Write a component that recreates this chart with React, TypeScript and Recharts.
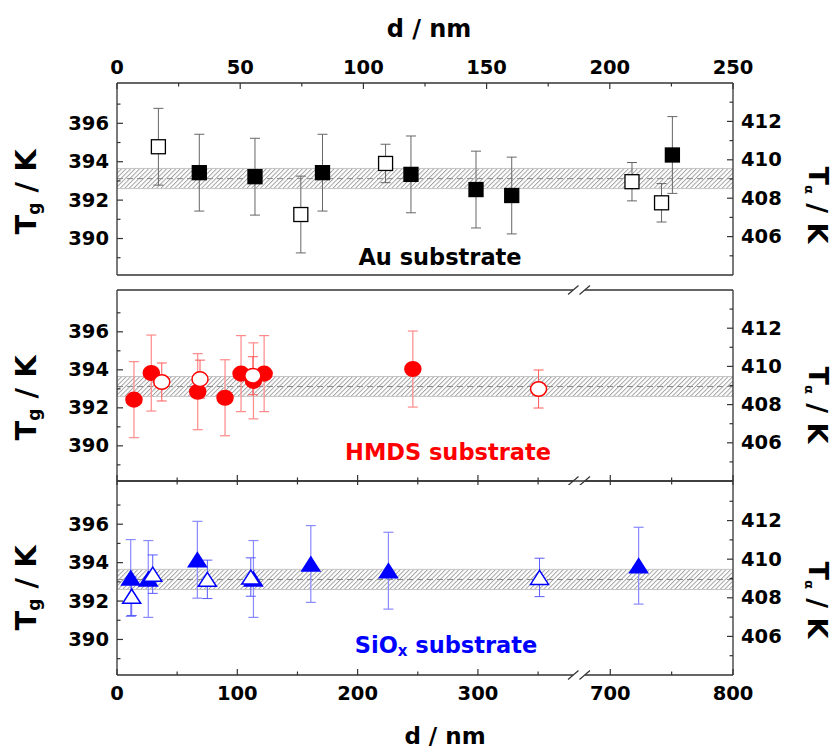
import React from 'react';
import { ScatterChart, Scatter, XAxis, YAxis, ErrorBar, ReferenceArea, ReferenceLine, ReferenceDot } from 'recharts';

// Au substrate, d read against the top axis (nm)
const auFilledD = [33.4, 56, 83.4, 119.3, 145.7, 160.2, 225.4];
const auFilledTg = [393.43, 393.22, 393.43, 393.34, 392.55, 392.24, 394.35];
const auFilledErr = [2, 2, 2, 2, 2, 2, 2];
const auOpenD = [16.8, 74.6, 109, 209, 221];
const auOpenTg = [394.78, 391.25, 393.91, 392.96, 391.86];
const auOpenErr = [2, 2, 1, 1, 1];

// HMDS substrate (bottom axis, broken between 350 and 700 nm)
const hmdsFilledD = [14.1, 28.5, 67.1, 89.8, 103.1, 113.4, 122.3, 245.9];
const hmdsFilledTg = [392.43, 393.83, 392.85, 392.53, 393.8, 393.42, 393.8, 394.04];
const hmdsFilledErr = [2, 2, 2, 2, 2, 2, 2, 2];
const hmdsOpenD = [37.2, 69, 112.9, 350.4];
const hmdsOpenTg = [393.36, 393.51, 393.69, 392.99];
const hmdsOpenErr = [1, 1, 1, 1];

// SiOx substrate
const sioFilledD = [11.4, 26, 66.8, 113.4, 161.1, 225.6, 723.1];
const sioFilledTg = [393.2, 393.15, 394.15, 393.15, 393.93, 393.58, 393.84];
const sioFilledErr = [2, 2, 2, 2, 2, 2, 2];
const sioOpenD = [12.2, 29.7, 75.1, 111.2, 351.2];
const sioOpenTg = [392.25, 393.4, 393.13, 393.25, 393.23];
const sioOpenErr = [1, 1, 1, 1, 1];

// reference band (mean Tg with its spread)
const bandLow = 392.6;
const bandHigh = 393.65;
const bandMean = 393.12;

const topTicks = [0, 25, 50, 75, 100, 125, 150, 175, 200, 225, 250];
const bottomTicksNm = [0, 50, 100, 150, 200, 250, 300, 350, 700, 750, 800];
const bottomLabels = [0, 100, 200, 300, 700, 800];
const tgTicks = [389, 390, 391, 392, 393, 394, 395, 396, 397];
const taTicks = [405, 406, 407, 408, 409, 410, 411, 412, 413];

const hmdsTgDomain: [number, number] = [388.15, 398.2];

const FONT = '"DejaVu Sans", Verdana, sans-serif';
const AXIS = '#333';
const BREAK_AT = 384;

// broken axis: 0..350 nm linear, then 700..800 nm squeezed next to it
const toAxis = (d: number) => (d < 500 ? d : 410 + (d - 700) * 1.02);
const fromAxis = (v: number) => (v < 385 ? v : Math.round(700 + (v - 410) / 1.02));
const bottomTicks = [...bottomTicksNm.map(toAxis), BREAK_AT].sort((a, b) => a - b);

const pts = (d: number[], t: number[], e: number[], tx = (v: number) => v) =>
  d.map((v, i) => ({ x: tx(v), y: t[i], err: e[i] }));

type Side = 'left' | 'right' | 'top' | 'bottom';

function breakMark(x: number, y: number) {
  return (
    <g>
      <rect x={x - 6} y={y - 2} width={12} height={4} fill="#fff" />
      <line x1={x - 11} y1={y + 4.5} x2={x - 0.5} y2={y - 4.5} stroke={AXIS} strokeWidth={1.2} />
      <line x1={x + 0.5} y1={y + 4.5} x2={x + 11} y2={y - 4.5} stroke={AXIS} strokeWidth={1.2} />
    </g>
  );
}

const makeTick = (side: Side, isMajor: (v: number) => boolean, label: (v: number) => string, both = false) => (props: any) => {
  const { x, y, payload } = props;
  const v = payload.value;
  if (v === BREAK_AT) return breakMark(x, y);
  const len = isMajor(v) ? 6 : 3.5;
  const out = both ? len : 0;
  const txt = label(v);
  const ts = { fontFamily: FONT, fontWeight: 700, fontSize: 19.5, fill: '#000' };
  if (side === 'left')
    return (
      <g>
        <line x1={x} y1={y} x2={x + len} y2={y} stroke={AXIS} strokeWidth={1.2} />
        {txt && <text x={x - 8} y={y} textAnchor="end" dominantBaseline="central" {...ts}>{txt}</text>}
      </g>
    );
  if (side === 'right')
    return (
      <g>
        <line x1={x} y1={y} x2={x - len} y2={y} stroke={AXIS} strokeWidth={1.2} />
        {txt && <text x={x + 8} y={y} textAnchor="start" dominantBaseline="central" {...ts}>{txt}</text>}
      </g>
    );
  if (side === 'top')
    return (
      <g>
        <line x1={x} y1={y} x2={x} y2={y + len} stroke={AXIS} strokeWidth={1.2} />
        {txt && <text x={x} y={y - 16} textAnchor="middle" dominantBaseline="central" {...ts}>{txt}</text>}
      </g>
    );
  return (
    <g>
      <line x1={x} y1={y + out} x2={x} y2={y - len} stroke={AXIS} strokeWidth={1.2} />
      {txt && <text x={x} y={y + 18} textAnchor="middle" dominantBaseline="central" {...ts}>{txt}</text>}
    </g>
  );
};

const even = (v: number) => v % 2 === 0;
const evenLabel = (v: number) => (even(v) ? String(v) : '');
const axisLine = { stroke: AXIS, strokeWidth: 1.3 };

const square = (fill: string, stroke: string) => (p: any) =>
  <rect x={p.cx - 7} y={p.cy - 7} width={14} height={14} fill={fill} stroke={stroke} strokeWidth={1.3} />;
const ellipse = (fill: string, stroke: string) => (p: any) =>
  <ellipse cx={p.cx} cy={p.cy} rx={8} ry={7.3} fill={fill} stroke={stroke} strokeWidth={1.5} />;
const triangle = (fill: string, stroke: string) => (p: any) => (
  <polygon
    points={`${p.cx - 9},${p.cy + 7} ${p.cx + 9},${p.cy + 7} ${p.cx},${p.cy - 7}`}
    fill={fill}
    stroke={stroke}
    strokeWidth={1.5}
  />
);

function Hatch({ id }: { id: string }) {
  return (
    <defs>
      <pattern id={id} patternUnits="userSpaceOnUse" width={3.2} height={3.2} patternTransform="rotate(45)">
        <rect width={3.2} height={3.2} fill="#fff" />
        <line x1={0.5} y1={0} x2={0.5} y2={3.2} stroke="#9a9a9a" strokeWidth={0.9} />
      </pattern>
    </defs>
  );
}

function Band({ id, xId }: { id: string; xId: string }) {
  return [
    <ReferenceArea key="a" xAxisId={xId} yAxisId="L" y1={bandLow} y2={bandHigh} fill={`url(#${id})`} fillOpacity={1} stroke="#c4c4c4" strokeWidth={1} ifOverflow="hidden" />,
    <ReferenceLine key="l" xAxisId={xId} yAxisId="L" y={bandMean} stroke="#888" strokeDasharray="6 4" strokeWidth={1} />,
  ];
}

function App() {
  const bottomTick = (withLabels: boolean, side: Side, both = false) =>
    makeTick(
      side,
      (v) => [0, 100, 200, 300, 700, 800].includes(fromAxis(v)),
      (v) => (withLabels && bottomLabels.includes(fromAxis(v)) ? String(fromAxis(v)) : ''),
      both,
    );
  const yAxes = (ld: [number, number], rd: [number, number]) => [
    <YAxis key="L" yAxisId="L" orientation="left" type="number" dataKey="y" domain={ld} allowDataOverflow ticks={tgTicks} interval={0} width={117} tickSize={0} tickMargin={0} tickLine={false} axisLine={axisLine} tick={makeTick('left', even, evenLabel)} />,
    <YAxis key="R" yAxisId="R" orientation="right" type="number" domain={rd} allowDataOverflow ticks={taTicks} interval={0} width={103} tickSize={0} tickMargin={0} tickLine={false} axisLine={axisLine} tick={makeTick('right', even, evenLabel)} />,
  ];

  const title = { fontFamily: FONT, fontWeight: 700, fill: '#000' };

  return (
    <div style={{ position: 'absolute', left: 0, top: 0, width: 836, height: 751, background: '#fff' }}>
      {/* Au */}
      <div style={{ position: 'absolute', left: 0, top: 0 }}>
        <ScatterChart width={836} height={280} margin={{ top: 0, right: 0, bottom: 0, left: 0 }}>
          <Hatch id="hatch1" />
          <XAxis xAxisId="t" orientation="top" type="number" dataKey="x" domain={[0, 250]} allowDataOverflow ticks={topTicks} interval={0} height={83} tickSize={0} tickMargin={0} tickLine={false} axisLine={axisLine} tick={makeTick('top', (v) => v % 50 === 0, (v) => (v % 50 === 0 ? String(v) : ''))} />
          <XAxis xAxisId="b" orientation="bottom" type="number" domain={[0, 250]} allowDataOverflow ticks={[]} height={5} tick={false} tickLine={false} axisLine={axisLine} />
          {yAxes([388.1, 398.1], [404, 414])}
          {Band({ id: 'hatch1', xId: 't' })}
          <Scatter xAxisId="t" yAxisId="L" data={pts(auFilledD, auFilledTg, auFilledErr)} shape={square('#000', '#000')} isAnimationActive={false}>
            <ErrorBar dataKey="err" direction="y" width={5} stroke="#666" strokeWidth={1} />
          </Scatter>
          <Scatter xAxisId="t" yAxisId="L" data={pts(auOpenD, auOpenTg, auOpenErr)} shape={square('#fff', '#000')} isAnimationActive={false}>
            <ErrorBar dataKey="err" direction="y" width={5} stroke="#666" strokeWidth={1} />
          </Scatter>
        </ScatterChart>
      </div>

      {/* HMDS */}
      <div style={{ position: 'absolute', left: 0, top: 285 }}>
        <ScatterChart width={836} height={200} margin={{ top: 0, right: 0, bottom: 0, left: 0 }}>
          <Hatch id="hatch2" />
          <XAxis xAxisId="t" orientation="top" type="number" domain={[0, 512]} allowDataOverflow ticks={[]} height={5} tick={false} tickLine={false} axisLine={axisLine} />
          <XAxis xAxisId="b" orientation="bottom" type="number" dataKey="x" domain={[0, 512]} allowDataOverflow ticks={bottomTicks} interval={0} height={4} tickSize={0} tickMargin={0} tickLine={false} axisLine={axisLine} tick={bottomTick(false, 'bottom', true)} />
          {yAxes(hmdsTgDomain, [404, 414])}
          {Band({ id: 'hatch2', xId: 'b' })}
          <Scatter xAxisId="b" yAxisId="L" data={pts(hmdsFilledD, hmdsFilledTg, hmdsFilledErr, toAxis)} shape={ellipse('#ff0000', '#ff0000')} isAnimationActive={false}>
            <ErrorBar dataKey="err" direction="y" width={5} stroke="#ff8a8a" strokeWidth={1.2} />
          </Scatter>
          <Scatter xAxisId="b" yAxisId="L" data={pts(hmdsOpenD, hmdsOpenTg, hmdsOpenErr, toAxis)} shape={ellipse('#fff', '#ff0000')} isAnimationActive={false}>
            <ErrorBar dataKey="err" direction="y" width={5} stroke="#ff5a5a" strokeWidth={1} />
          </Scatter>
          <ReferenceDot xAxisId="b" yAxisId="L" x={BREAK_AT} y={hmdsTgDomain[1]} ifOverflow="visible" shape={(p: any) => breakMark(p.cx, p.cy)} />
        </ScatterChart>
      </div>

      {/* SiOx */}
      <div style={{ position: 'absolute', left: 0, top: 476 }}>
        <ScatterChart width={836} height={275} margin={{ top: 0, right: 0, bottom: 0, left: 0 }}>
          <Hatch id="hatch3" />
          <XAxis xAxisId="t" orientation="top" type="number" domain={[0, 512]} allowDataOverflow ticks={[]} height={5} tick={false} tickLine={false} axisLine={axisLine} />
          <XAxis xAxisId="b" orientation="bottom" type="number" dataKey="x" domain={[0, 512]} allowDataOverflow ticks={bottomTicks} interval={0} height={76} tickSize={0} tickMargin={0} tickLine={false} axisLine={axisLine} tick={bottomTick(true, 'bottom')} />
          {yAxes([388.15, 398.25], [404, 414.05])}
          {Band({ id: 'hatch3', xId: 'b' })}
          <Scatter xAxisId="b" yAxisId="L" data={pts(sioFilledD, sioFilledTg, sioFilledErr, toAxis)} shape={triangle('#0000ff', '#0000ff')} isAnimationActive={false}>
            <ErrorBar dataKey="err" direction="y" width={5} stroke="#8a8aff" strokeWidth={1.2} />
          </Scatter>
          <Scatter xAxisId="b" yAxisId="L" data={pts(sioOpenD, sioOpenTg, sioOpenErr, toAxis)} shape={triangle('#fff', '#0000ff')} isAnimationActive={false}>
            <ErrorBar dataKey="err" direction="y" width={5} stroke="#5a5aff" strokeWidth={1} />
          </Scatter>
        </ScatterChart>
      </div>

      {/* titles and panel labels */}
      <svg width={836} height={751} style={{ position: 'absolute', left: 0, top: 0, pointerEvents: 'none' }}>
        <text x={429} y={29} textAnchor="middle" dominantBaseline="central" fontSize={24} {...title}>d / nm</text>
        <text x={445} y={736} textAnchor="middle" dominantBaseline="central" fontSize={23} {...title}>d / nm</text>
        {[192, 398, 588].map((cy) => (
          <text key={cy} transform={`translate(26,${cy}) rotate(-90)`} textAnchor="middle" dominantBaseline="central" fontSize={29} {...title}>
            T<tspan fontSize={17} dy={8}>g</tspan><tspan dy={-8}> / K</tspan>
          </text>
        ))}
        {[205, 405, 600].map((cy) => (
          <text key={cy} transform={`translate(818,${cy}) rotate(90)`} textAnchor="middle" dominantBaseline="central" fontSize={27} {...title}>
            T<tspan fontSize={13} dy={8}>α</tspan><tspan dy={-8}> / K</tspan>
          </text>
        ))}
        <text x={440} y={257} textAnchor="middle" dominantBaseline="central" fontSize={22.5} {...title}>Au substrate</text>
        <text x={448} y={452} textAnchor="middle" dominantBaseline="central" fontSize={22.5} {...title} fill="#ff0000">HMDS substrate</text>
        <text x={446} y={645} textAnchor="middle" dominantBaseline="central" fontSize={22.5} {...title} fill="#0000ff">
          SiO<tspan fontSize={15} dy={6}>x</tspan><tspan dy={-6}> substrate</tspan>
        </text>
      </svg>
    </div>
  );
}

export default App;
